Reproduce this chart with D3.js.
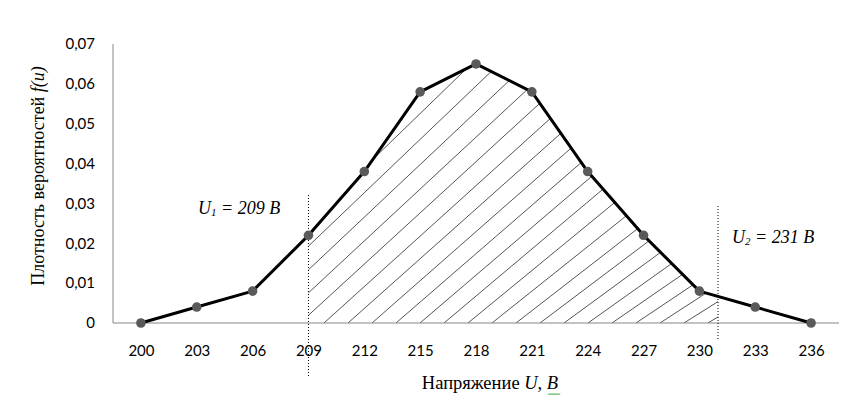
<!DOCTYPE html>
<html><head><meta charset="utf-8">
<script src="https://cdn.jsdelivr.net/npm/d3@7"></script>
<style>body{margin:0;background:#fff}svg{display:block}</style>
</head><body>
<svg id="c" width="855" height="406"></svg>
<script>
const categories = [200,203,206,209,212,215,218,221,224,227,230,233,236];
const density = [0,0.004,0.008,0.022,0.038,0.058,0.065,0.058,0.038,0.022,0.008,0.004,0];
const yTicks = [0,0.01,0.02,0.03,0.04,0.05,0.06,0.07];
const U1 = 209, U2 = 231;

const svg = d3.select("#c");
const x = d3.scalePoint().domain(categories).range([113,839]).padding(0.5);
const y = d3.scaleLinear().domain([0,0.07]).range([323,44]);
const step = x.step();
const xv = v => {
  const i = Math.min(categories.length-2, Math.max(0, Math.floor((v-200)/3)));
  return x(categories[i]) + (v-categories[i])/3*step;
};
const fv = v => {
  const i = Math.min(categories.length-2, Math.floor((v-200)/3));
  const t = (v-categories[i])/3;
  return density[i]*(1-t)+density[i+1]*t;
};
const fmt = d => d===0 ? "0" : d3.format(".2f")(d).replace(".",",");

// hatched area between U1 and U2
const pts = [];
categories.forEach((c,i)=>{ if(c>=U1 && c<=U2) pts.push([x(c), y(density[i])]); });
pts.push([xv(U2), y(fv(U2))]);
pts.push([xv(U2), y(0)]);
pts.push([xv(U1), y(0)]);
svg.append("clipPath").attr("id","hc").append("path").attr("d","M"+pts.map(p=>p.join(",")).join("L")+"Z");
const angle = d3.scaleLinear().domain([150,450,720]).range([45,40,31]);
const hatch = svg.append("g").attr("clip-path","url(#hc)");
d3.range(60, 730, 24).forEach(bx=>{
  const a = angle(bx)*Math.PI/180, L = 400;
  hatch.append("line").attr("x1",bx).attr("y1",y(0)).attr("x2",bx+L*Math.cos(a)).attr("y2",y(0)-L*Math.sin(a))
    .attr("stroke","#2a2a2a").attr("stroke-width",0.8);
});

// axes
const yAxis = svg.append("g").attr("transform","translate(113,0)").call(d3.axisLeft(y).tickValues(yTicks).tickSize(0).tickPadding(18).tickFormat(fmt));
yAxis.select(".domain").attr("stroke","#868686").attr("d","M0,44V323");
yAxis.selectAll("text").attr("font-family","Lato").attr("font-size",15).attr("fill","#000");
const xAxis = svg.append("g").attr("transform","translate(0,323)").call(d3.axisBottom(x).tickSize(0).tickPadding(22));
xAxis.select(".domain").attr("stroke","#868686").attr("d","M113,0H839");
xAxis.selectAll("text").attr("font-family","Lato").attr("font-size",15).attr("fill","#000");

// dotted boundary lines
svg.append("line").attr("x1",xv(U1)).attr("x2",xv(U1)).attr("y1",195).attr("y2",378)
  .attr("stroke","#000").attr("stroke-width",1).attr("stroke-dasharray","1,2");
svg.append("line").attr("x1",xv(U2)).attr("x2",xv(U2)).attr("y1",206).attr("y2",340)
  .attr("stroke","#000").attr("stroke-width",1).attr("stroke-dasharray","1,2");

// curve
const line = d3.line().x((d,i)=>x(categories[i])).y(d=>y(d));
svg.append("path").datum(density).attr("d",line).attr("fill","none").attr("stroke","#000").attr("stroke-width",3).attr("stroke-linejoin","round");
svg.selectAll("circle.m").data(density).join("circle").attr("class","m")
  .attr("cx",(d,i)=>x(categories[i])).attr("cy",d=>y(d)).attr("r",4.8).attr("fill","#5a5a5a");

// annotations
function ann(tx,ty,sub,val){
  const t = svg.append("text").attr("x",tx).attr("y",ty).attr("font-family","Liberation Serif").attr("font-style","italic").attr("font-size",18).attr("fill","#000");
  t.append("tspan").text("U");
  t.append("tspan").attr("font-size",11).attr("dy",2).text(sub);
  t.append("tspan").attr("dy",-2).text(" = "+val+" В");
}
ann(198,214,"1",U1);
ann(732,243,"2",U2);

// axis titles
const xt = svg.append("text").attr("x",490).attr("y",389).attr("text-anchor","middle").attr("font-family","Liberation Serif").attr("font-size",18.5).attr("fill","#000");
xt.append("tspan").text("Напряжение ");
xt.append("tspan").attr("font-style","italic").text("U, В");
svg.append("path").attr("d","M548,393.5"+d3.range(0,6).map(i=>"l1,1.3l1,-1.3").join("")).attr("fill","none").attr("stroke","#3aa63a").attr("stroke-width",0.9);
const yt = svg.append("text").attr("transform","translate(44,176) rotate(-90)").attr("text-anchor","middle").attr("font-family","Liberation Serif").attr("font-size",18).attr("fill","#000");
yt.append("tspan").text("Плотность вероятностей ");
yt.append("tspan").attr("font-style","italic").text("f(u)");
</script>
</body></html>
